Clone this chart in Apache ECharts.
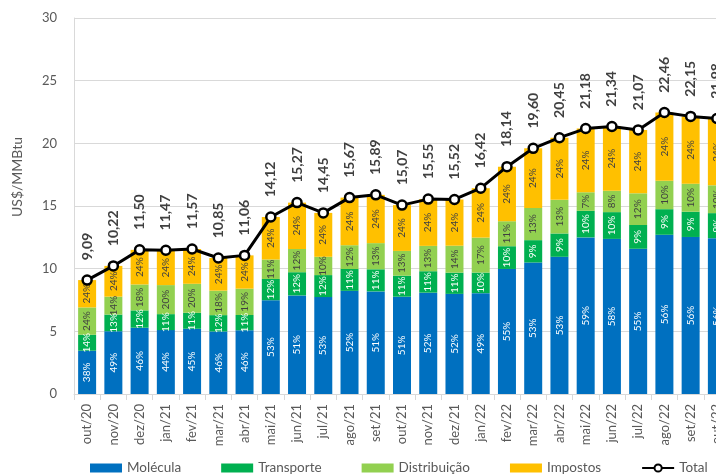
<!DOCTYPE html>
<html>
<head>
<meta charset="utf-8">
<script src="https://cdn.jsdelivr.net/npm/echarts@6/dist/echarts.min.js"></script>
<style>
  html, body { margin: 0; padding: 0; overflow: hidden; background: #fff; }
  #chart { width: 760px; height: 474px; }
</style>
</head>
<body>
<div id="chart"></div>
<script>
// meses
var meses = ['out/20', 'nov/20', 'dez/20', 'jan/21', 'fev/21', 'mar/21', 'abr/21', 'mai/21', 'jun/21',
  'jul/21', 'ago/21', 'set/21', 'out/21', 'nov/21', 'dez/21', 'jan/22', 'fev/22', 'mar/22', 'abr/22',
  'mai/22', 'jun/22', 'jul/22', 'ago/22', 'set/22', 'out/22'];

// preço total (US$/MMBtu)
var total = [9.09, 10.22, 11.50, 11.47, 11.57, 10.85, 11.06, 14.12, 15.27, 14.45, 15.67, 15.89, 15.07,
  15.55, 15.52, 16.42, 18.14, 19.60, 20.45, 21.18, 21.34, 21.07, 22.46, 22.15, 21.98];

// participação de cada componente (%)
var pctMolecula = [38, 49, 46, 44, 45, 46, 46, 53, 51, 53, 52, 51, 51, 52, 52, 49, 55, 53, 53, 59, 58, 55, 56, 56, 56];
var pctTransporte = [14, 13, 12, 11, 11, 12, 11, 12, 12, 12, 11, 11, 11, 11, 11, 10, 10, 9, 9, 10, 10, 9, 9, 9, 9];
var pctDistribuicao = [24, 14, 18, 20, 20, 18, 19, 11, 12, 10, 12, 13, 13, 13, 14, 17, 11, 13, 13, 7, 8, 12, 10, 10, 10];
var pctImpostos = [24, 24, 24, 24, 24, 24, 24, 24, 24, 24, 24, 24, 24, 24, 24, 24, 24, 24, 24, 24, 24, 24, 24, 24, 24];

var cinza = '#595959';
var fonte = 'Lato, "Open Sans", sans-serif';

// valor de cada parte = total * participação (normalizado)
function parte(pct) {
  var out = [];
  for (let i = 0; i < total.length; i++) {
    let soma = pctMolecula[i] + pctTransporte[i] + pctDistribuicao[i] + pctImpostos[i];
    out.push(total[i] * pct[i] / soma);
  }
  return out;
}

function serieBarra(nome, pct, cor, corTexto) {
  return {
    name: nome,
    type: 'bar',
    stack: 'preco',
    barWidth: 18,
    data: parte(pct),
    itemStyle: { color: cor },
    label: {
      show: true,
      position: 'inside',
      rotate: 90,
      fontSize: 10,
      fontFamily: fonte,
      color: corTexto,
      formatter: function (p) { return pct[p.dataIndex] + '%'; }
    }
  };
}

var myChart = echarts.init(document.getElementById('chart'));

var option = {
  animation: false,
  textStyle: { fontFamily: fonte },
  grid: { left: 74, right: 30, top: 18, bottom: 80 },
  legend: {
    left: 85,
    bottom: -6,
    itemWidth: 32,
    itemHeight: 9,
    itemGap: 40,
    textStyle: { fontSize: 13.5, color: cinza, fontFamily: fonte },
    data: [
      { name: 'Molécula', icon: 'rect' },
      { name: 'Transporte', icon: 'rect' },
      { name: 'Distribuição', icon: 'rect' },
      { name: 'Impostos', icon: 'rect' },
      { name: 'Total' }
    ]
  },
  xAxis: {
    type: 'category',
    data: meses,
    axisLine: { lineStyle: { color: '#d9d9d9' } },
    axisTick: { show: true, length: 6, lineStyle: { color: '#d9d9d9' } },
    axisLabel: { rotate: 90, fontSize: 13, color: cinza, margin: 10, fontFamily: fonte }
  },
  yAxis: {
    type: 'value',
    min: 0,
    max: 30,
    interval: 5,
    name: 'US$/MMBtu',
    nameLocation: 'middle',
    nameGap: 50,
    nameTextStyle: { fontSize: 14, color: cinza, padding: [0, 0, 0, 58], fontFamily: fonte },
    axisLine: { show: true, lineStyle: { color: '#d9d9d9' } },
    axisLabel: { fontSize: 13, color: cinza, margin: 17, fontFamily: fonte },
    splitLine: { lineStyle: { color: '#d9d9d9' } }
  },
  series: [
    serieBarra('Molécula', pctMolecula, '#0070C0', '#ffffff'),
    serieBarra('Transporte', pctTransporte, '#00B050', '#ffffff'),
    serieBarra('Distribuição', pctDistribuicao, '#92D050', '#404040'),
    serieBarra('Impostos', pctImpostos, '#FFC000', '#404040'),
    {
      name: 'Total',
      type: 'line',
      data: total,
      z: 10,
      symbol: 'circle',
      symbolSize: 9,
      itemStyle: { color: '#ffffff', borderColor: '#000000', borderWidth: 2.5 },
      lineStyle: { color: '#000000', width: 3 },
      label: {
        show: true,
        position: 'top',
        distance: 14,
        rotate: 90,
        align: 'left',
        verticalAlign: 'middle',
        fontSize: 14,
        fontWeight: 'bold',
        color: '#404040',
        fontFamily: fonte,
        formatter: function (p) { return total[p.dataIndex].toFixed(2).replace('.', ','); }
      }
    }
  ]
};

myChart.setOption(option);
</script>
</body>
</html>
